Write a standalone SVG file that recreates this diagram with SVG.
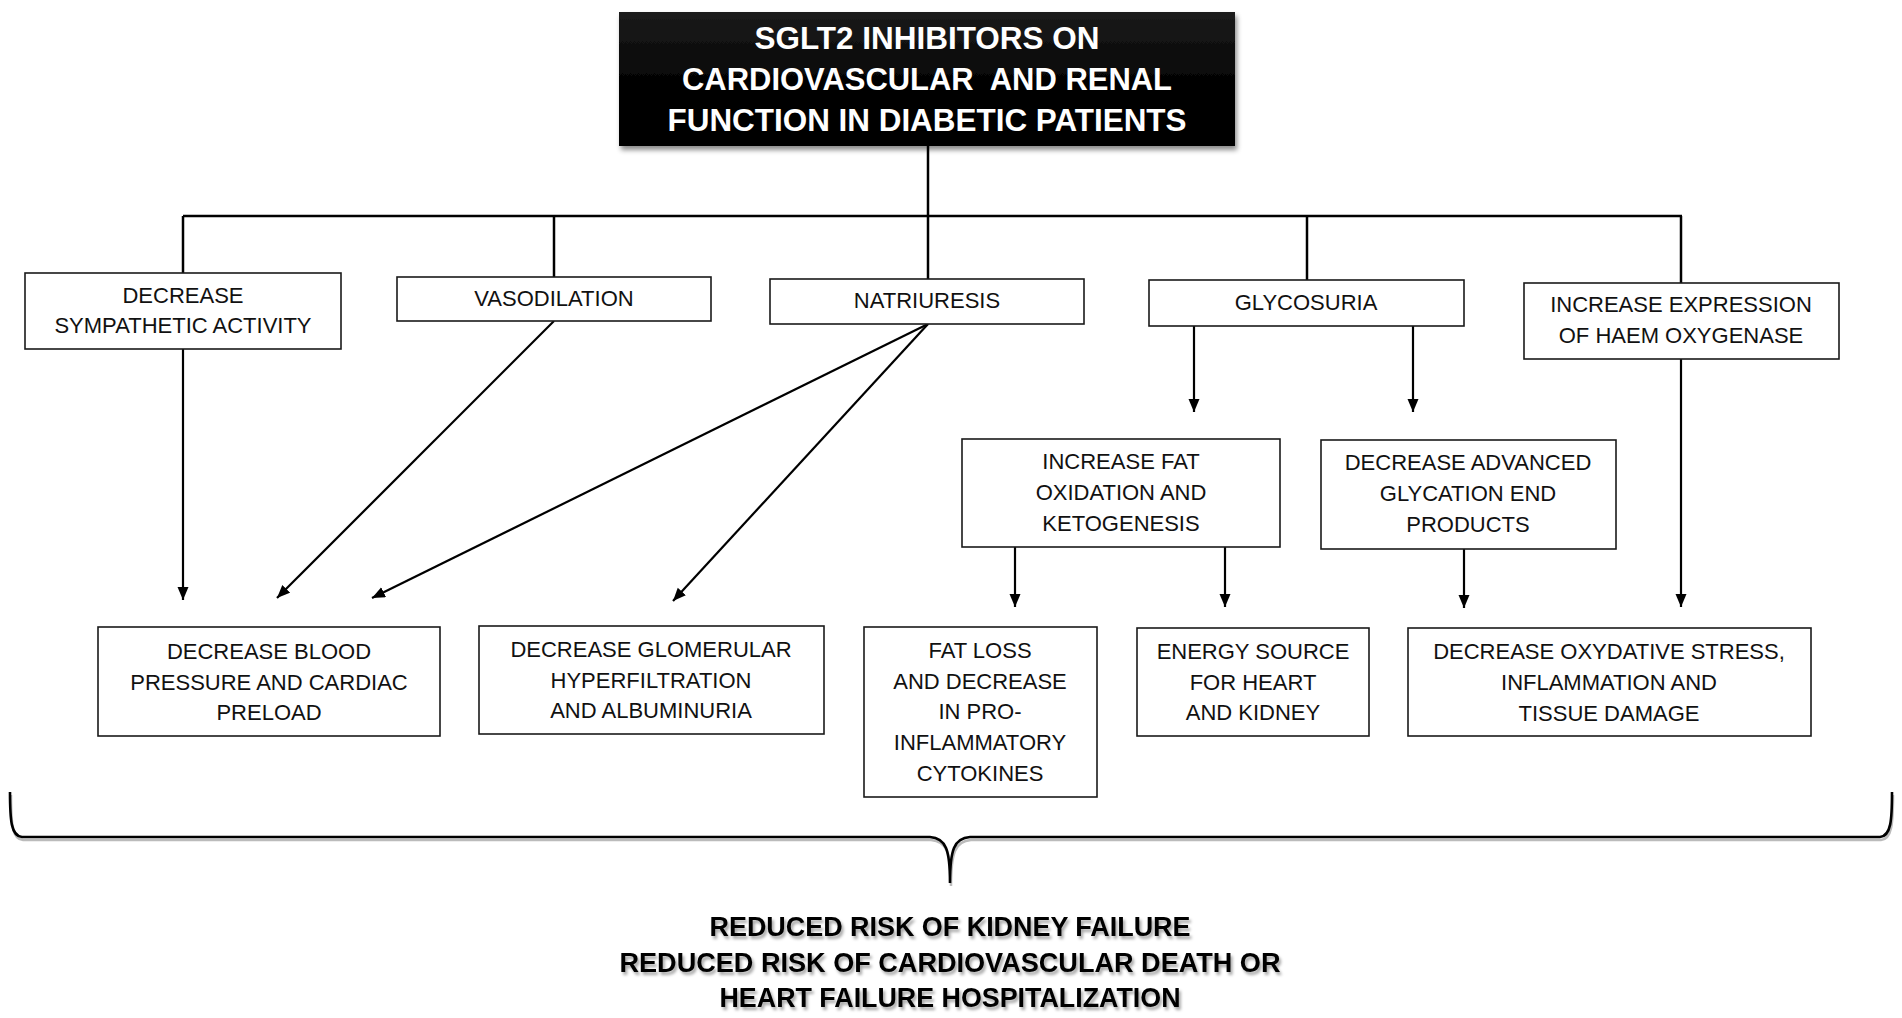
<svg xmlns="http://www.w3.org/2000/svg" width="1902" height="1018" viewBox="0 0 1902 1018">
<defs>
<style>
.box{fill:#fff;stroke:#1a1a1a;stroke-width:1.6}
.t{font-family:"Liberation Sans",Arial,sans-serif;font-size:22px;fill:#111;text-anchor:middle}
.title{font-family:"Liberation Sans",Arial,sans-serif;font-weight:bold;font-size:31px;fill:#fff;text-anchor:middle}
.res{font-family:"Liberation Sans",Arial,sans-serif;font-weight:bold;font-size:27px;fill:#000;text-anchor:middle}
.ln{fill:none;stroke:#000;stroke-width:2.5}
.ar{fill:none;stroke:#000;stroke-width:2.2}
</style>
<linearGradient id="gblack" x1="0" y1="0" x2="0" y2="1">
<stop offset="0" stop-color="#1c1c1c"/>
<stop offset="0.5" stop-color="#050505"/>
<stop offset="1" stop-color="#000"/>
</linearGradient>
<filter id="shadow" x="-5%" y="-10%" width="110%" height="130%">
<feDropShadow dx="2" dy="4" stdDeviation="2.5" flood-color="#000" flood-opacity="0.45"/>
</filter>
<filter id="tshadow" x="-5%" y="-20%" width="110%" height="160%">
<feDropShadow dx="2" dy="3" stdDeviation="1.5" flood-color="#000" flood-opacity="0.35"/>
</filter>
<marker id="arr" markerUnits="userSpaceOnUse" markerWidth="14" markerHeight="12" refX="13" refY="5.5" orient="auto">
<path d="M0,0 L13,5.5 L0,11 Z" fill="#000"/>
</marker>
</defs>
<rect width="1902" height="1018" fill="#fff"/>

<g id="connectors">
<path class="ln" d="M928,146 L928,279"/>
<path class="ln" d="M183,216 L1682,216"/>
<path class="ln" d="M183,216 L183,273"/>
<path class="ln" d="M554,216 L554,277"/>
<path class="ln" d="M1307,216 L1307,280"/>
<path class="ln" d="M1681,216 L1681,283"/>
<path class="ar" marker-end="url(#arr)" d="M183,349 L183,600"/>
<path class="ar" marker-end="url(#arr)" d="M554,321 L277,598"/>
<path class="ar" marker-end="url(#arr)" d="M928,324 L372,598"/>
<path class="ar" marker-end="url(#arr)" d="M928,324 L673,601"/>
<path class="ar" marker-end="url(#arr)" d="M1194,326 L1194,412"/>
<path class="ar" marker-end="url(#arr)" d="M1413,326 L1413,412"/>
<path class="ar" marker-end="url(#arr)" d="M1015,547 L1015,607"/>
<path class="ar" marker-end="url(#arr)" d="M1225,547 L1225,607"/>
<path class="ar" marker-end="url(#arr)" d="M1464,549 L1464,608"/>
<path class="ar" marker-end="url(#arr)" d="M1681,359 L1681,607"/>
</g>

<g id="title">
<rect x="619" y="12" width="616" height="134" fill="url(#gblack)" filter="url(#shadow)"/>
<text class="title" x="927" y="49" textLength="345" lengthAdjust="spacingAndGlyphs">SGLT2 INHIBITORS ON</text>
<text class="title" x="927" y="90" textLength="490" lengthAdjust="spacingAndGlyphs" xml:space="preserve">CARDIOVASCULAR  AND RENAL</text>
<text class="title" x="927" y="131" textLength="519" lengthAdjust="spacingAndGlyphs">FUNCTION IN DIABETIC PATIENTS</text>
</g>

<g id="n-sympathetic">
<rect class="box" x="25" y="273" width="316" height="76"/>
<text class="t" x="183" y="303">DECREASE</text>
<text class="t" x="183" y="333">SYMPATHETIC ACTIVITY</text>
</g>
<g id="n-vasodilation">
<rect class="box" x="397" y="277" width="314" height="44"/>
<text class="t" x="554" y="306">VASODILATION</text>
</g>
<g id="n-natriuresis">
<rect class="box" x="770" y="279" width="314" height="45"/>
<text class="t" x="927" y="308">NATRIURESIS</text>
</g>
<g id="n-glycosuria">
<rect class="box" x="1149" y="280" width="315" height="46"/>
<text class="t" x="1306" y="310">GLYCOSURIA</text>
</g>
<g id="n-haem">
<rect class="box" x="1524" y="283" width="315" height="76"/>
<text class="t" x="1681" y="312">INCREASE EXPRESSION</text>
<text class="t" x="1681" y="343">OF HAEM OXYGENASE</text>
</g>
<g id="n-fatox">
<rect class="box" x="962" y="439" width="318" height="108"/>
<text class="t" x="1121" y="469">INCREASE FAT</text>
<text class="t" x="1121" y="500">OXIDATION AND</text>
<text class="t" x="1121" y="531">KETOGENESIS</text>
</g>
<g id="n-age">
<rect class="box" x="1321" y="440" width="295" height="109"/>
<text class="t" x="1468" y="470">DECREASE ADVANCED</text>
<text class="t" x="1468" y="501">GLYCATION END</text>
<text class="t" x="1468" y="532">PRODUCTS</text>
</g>
<g id="n-bp">
<rect class="box" x="98" y="627" width="342" height="109"/>
<text class="t" x="269" y="659">DECREASE BLOOD</text>
<text class="t" x="269" y="690">PRESSURE AND CARDIAC</text>
<text class="t" x="269" y="720">PRELOAD</text>
</g>
<g id="n-glomerular">
<rect class="box" x="479" y="626" width="345" height="108"/>
<text class="t" x="651" y="657">DECREASE GLOMERULAR</text>
<text class="t" x="651" y="688">HYPERFILTRATION</text>
<text class="t" x="651" y="718">AND ALBUMINURIA</text>
</g>
<g id="n-fatloss">
<rect class="box" x="864" y="627" width="233" height="170"/>
<text class="t" x="980" y="658">FAT LOSS</text>
<text class="t" x="980" y="689">AND DECREASE</text>
<text class="t" x="980" y="719">IN PRO-</text>
<text class="t" x="980" y="750">INFLAMMATORY</text>
<text class="t" x="980" y="781">CYTOKINES</text>
</g>
<g id="n-energy">
<rect class="box" x="1137" y="628" width="232" height="108"/>
<text class="t" x="1253" y="659">ENERGY SOURCE</text>
<text class="t" x="1253" y="690">FOR HEART</text>
<text class="t" x="1253" y="720">AND KIDNEY</text>
</g>
<g id="n-oxstress">
<rect class="box" x="1408" y="628" width="403" height="108"/>
<text class="t" x="1609" y="659">DECREASE OXYDATIVE STRESS,</text>
<text class="t" x="1609" y="690">INFLAMMATION AND</text>
<text class="t" x="1609" y="721">TISSUE DAMAGE</text>
</g>

<g id="brace">
<path d="M10,792 C10,820 11,836 22,837 L930,837 C946,838 950,850 950,883 C950,850 954,838 970,837 L1880,837 C1891,836 1892,820 1892,792" fill="none" stroke="#bbb" stroke-width="2.5" transform="translate(1,3)"/>
<path d="M10,792 C10,820 11,836 22,837 L930,837 C946,838 950,850 950,883 C950,850 954,838 970,837 L1880,837 C1891,836 1892,820 1892,792" fill="none" stroke="#000" stroke-width="2.6"/>
</g>

<g id="result" filter="url(#tshadow)">
<text class="res" x="950" y="936" textLength="481" lengthAdjust="spacingAndGlyphs">REDUCED RISK OF KIDNEY FAILURE</text>
<text class="res" x="950" y="972" textLength="661" lengthAdjust="spacingAndGlyphs">REDUCED RISK OF CARDIOVASCULAR DEATH OR</text>
<text class="res" x="950" y="1007" textLength="461" lengthAdjust="spacingAndGlyphs">HEART FAILURE HOSPITALIZATION</text>
</g>
</svg>
